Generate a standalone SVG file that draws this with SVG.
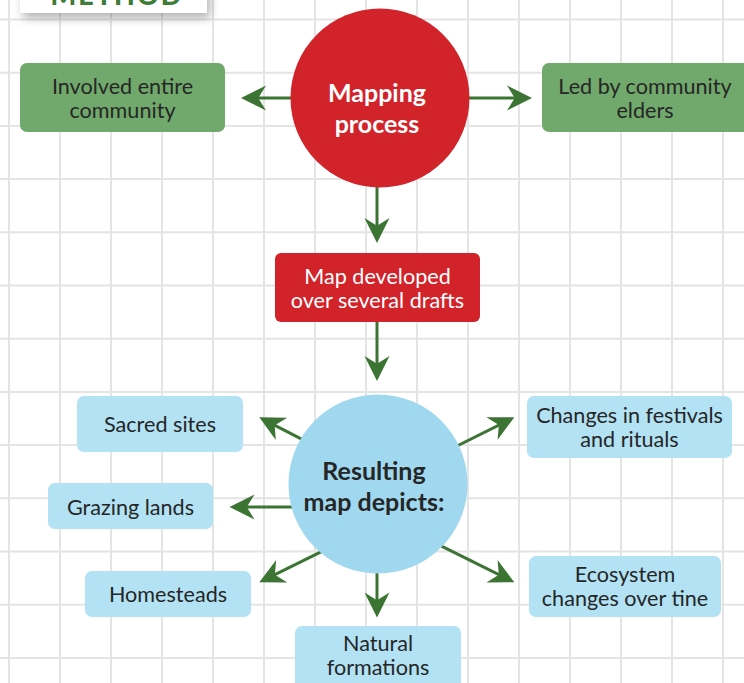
<svg xmlns="http://www.w3.org/2000/svg" width="744" height="683" viewBox="0 0 744 683">
<style>
.t{font-family:Lato,"Noto Sans","DejaVu Sans",sans-serif;font-size:21.6px;fill:#262626;text-anchor:middle}
.w{fill:#ffffff}
.b{font-weight:bold;font-size:25px}
.green{fill:#70a96b}
.red{fill:#d2232a}
.blue{fill:#b2e2f3}
.conn line{stroke:#3c7434;stroke-width:3;marker-end:url(#ah)}
</style>
<defs>
<marker id="ah" markerUnits="userSpaceOnUse" markerWidth="30" markerHeight="30" refX="15" refY="0" orient="auto" overflow="visible">
<path d="M0,-12.5 L25,0 L0,12.5 L7.7,0 Z" fill="#3c7434"/>
</marker>
<filter id="sh" x="-20%" y="-50%" width="140%" height="250%">
<feDropShadow dx="3" dy="5" stdDeviation="5" flood-color="#000" flood-opacity="0.3"/>
</filter>
</defs>
<rect width="744" height="683" fill="#ffffff"/>
<path id="grid" stroke="#e4e4e4" stroke-width="2" fill="none" d="M9,0V683M60,0V683M111,0V683M162,0V683M213,0V683M264,0V683M315,0V683M366,0V683M417,0V683M468,0V683M519,0V683M570,0V683M621,0V683M672,0V683M723,0V683M0,19.5H744M0,72.7H744M0,125.9H744M0,179.1H744M0,232.3H744M0,285.5H744M0,338.7H744M0,391.9H744M0,445.1H744M0,498.3H744M0,551.5H744M0,604.7H744M0,657.9H744"/>
<g id="method">
<rect x="20" y="-40" width="187" height="53" fill="#ffffff" filter="url(#sh)"/>
<text x="117" y="5" font-family="Lato,'Noto Sans',sans-serif" font-size="27" font-weight="900" letter-spacing="2" fill="#3e7c3a" text-anchor="middle">METHOD</text>
</g>
<g class="conn">
<line x1="295" y1="98" x2="251" y2="98"/>
<line x1="465" y1="98" x2="522" y2="98"/>
<line x1="377" y1="184" x2="377" y2="233"/>
<line x1="377" y1="320" x2="377" y2="371"/>
<line x1="304" y1="440.4" x2="268.2" y2="421.9"/>
<line x1="295" y1="507" x2="239.5" y2="507"/>
<line x1="324" y1="550.3" x2="268.3" y2="577.9"/>
<line x1="377" y1="568" x2="377" y2="607.5"/>
<line x1="439" y1="544.9" x2="505.4" y2="577.9"/>
<line x1="455" y1="447" x2="505.4" y2="421.8"/>
</g>
<g id="involved">
<rect class="green" x="20" y="63" width="205" height="69" rx="7"/>
<text class="t" x="122.5" y="94">Involved entire</text>
<text class="t" x="122.5" y="118">community</text>
</g>
<g id="elders">
<rect class="green" x="542" y="63" width="212" height="69" rx="7"/>
<text class="t" x="645" y="94">Led by community</text>
<text class="t" x="645" y="118">elders</text>
</g>
<g id="mapping">
<circle class="red" cx="380" cy="98" r="89.5"/>
<text class="t w b" x="377" y="102">Mapping</text>
<text class="t w b" x="377" y="133">process</text>
</g>
<g id="drafts">
<rect class="red" x="275" y="253" width="205" height="69" rx="6"/>
<text class="t w" x="377.5" y="284">Map developed</text>
<text class="t w" x="377.5" y="308">over several drafts</text>
</g>
<g id="resulting">
<circle cx="378" cy="484" r="89.5" fill="#a0d8ef"/>
<text class="t b" x="374" y="480">Resulting</text>
<text class="t b" x="374" y="511">map depicts:</text>
</g>
<g id="sacred">
<rect class="blue" x="77" y="396" width="166" height="56" rx="7"/>
<text class="t" x="160" y="432">Sacred sites</text>
</g>
<g id="grazing">
<rect class="blue" x="48" y="483" width="165" height="46" rx="7"/>
<text class="t" x="130.5" y="515">Grazing lands</text>
</g>
<g id="homesteads">
<rect class="blue" x="85" y="571" width="166" height="46" rx="7"/>
<text class="t" x="168" y="602">Homesteads</text>
</g>
<g id="natural">
<rect class="blue" x="295" y="626" width="166" height="70" rx="7"/>
<text class="t" x="378" y="651">Natural</text>
<text class="t" x="378" y="675">formations</text>
</g>
<g id="festivals">
<rect class="blue" x="527" y="396" width="205" height="62" rx="7"/>
<text class="t" x="629.5" y="423">Changes in festivals</text>
<text class="t" x="629.5" y="447">and rituals</text>
</g>
<g id="ecosystem">
<rect class="blue" x="529" y="556" width="192" height="61" rx="7"/>
<text class="t" x="625" y="582">Ecosystem</text>
<text class="t" x="625" y="606">changes over tine</text>
</g>
</svg>
